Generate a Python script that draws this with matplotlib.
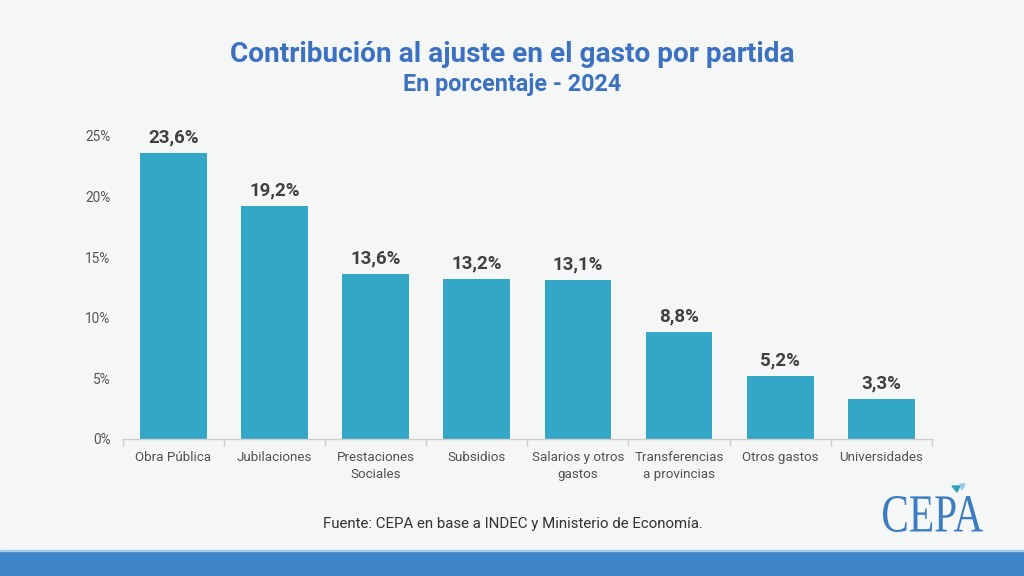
import matplotlib
matplotlib.use("Agg")
import matplotlib.pyplot as plt
from matplotlib.patches import Polygon, Rectangle, PathPatch
from matplotlib.textpath import TextPath
from matplotlib.font_manager import FontProperties
from matplotlib.transforms import Affine2D
import numpy as np

categorias = ["Obra Pública", "Jubilaciones", "Prestaciones\nSociales", "Subsidios",
              "Salarios y otros\ngastos", "Transferencias\na provincias", "Otros gastos",
              "Universidades"]
valores = [23.6, 19.2, 13.6, 13.2, 13.1, 8.8, 5.2, 3.3]
yticks = [0, 5, 10, 15, 20, 25]

titulo = "Contribución al ajuste en el gasto por partida"
subtitulo = "En porcentaje - 2024"
fuente = "Fuente: CEPA en base a INDEC y Ministerio de Economía."

BG = "#f5f7f6"
BAR = "#35a7c6"
TITLE_C = "#3b71c0"
GRID_C = "#cfcfcf"

plt.rcParams["font.family"] = ["Roboto", "DejaVu Sans"]

fig = plt.figure(figsize=(10.24, 5.76), dpi=100, facecolor=BG)
ax = fig.add_axes([0.120, 0.238, 0.790, 0.526], facecolor=BG)

x = np.arange(len(categorias))
ax.bar(x, valores, width=0.66, color=BAR, zorder=2)
for xi, v in zip(x, valores):
    ax.text(xi, v + 0.55, f"{v:.1f}%".replace(".", ","), ha="center", va="bottom",
            fontsize=13.5, fontweight="bold", color="#404040", clip_on=False)

ax.set_xlim(-0.5, len(categorias) - 0.5)
ax.set_ylim(0, 25)
ax.set_yticks(yticks)
ax.set_yticklabels([f"{t}%" for t in yticks], fontsize=9.8, color="#555555")
ax.set_xticks(x)
ax.set_xticklabels(categorias, fontsize=9.6, color="#505050", linespacing=1.4)
ax.set_xticks(np.arange(len(categorias) + 1) - 0.5, minor=True)
ax.tick_params(axis="x", which="major", length=0, pad=9)
ax.tick_params(axis="x", which="minor", length=5, color=GRID_C, width=1)
ax.tick_params(axis="y", length=0, pad=9)
for s in ["top", "right", "left"]:
    ax.spines[s].set_visible(False)
ax.spines["bottom"].set_color(GRID_C)
ax.spines["bottom"].set_linewidth(1)

fig.text(0.5, 0.905, titulo, ha="center", va="center", fontsize=20.2,
         fontweight="bold", color=TITLE_C)
fig.text(0.5, 0.853, subtitulo, ha="center", va="center", fontsize=16.8,
         fontweight="bold", color=TITLE_C)
fig.text(0.501, 0.090, fuente, ha="center", va="center", fontsize=10.8,
         color="#333333")

# logo CEPA (texto serif comprimido para encajar en la caja del original)
tp = TextPath((0, 0), "CEPA", size=10, prop=FontProperties(family="Liberation Serif"))
bb = tp.get_extents()
W, H = 1024.0, 576.0
x0, y0, w, h = 883 / W, 44 / H, 100 / W, 36 / H
tr = (Affine2D().translate(-bb.x0, -bb.y0)
      .scale(w / bb.width, h / bb.height).translate(x0, y0) + fig.transFigure)
fig.patches.append(PathPatch(tp, transform=tr, facecolor="#3c7cc0",
                             edgecolor="none", zorder=3))
fig.patches.append(Polygon([[952 / W, 1 - 486 / H], [960 / W, 1 - 486 / H],
                            [957 / W, 1 - 492 / H]], closed=True,
                           transform=fig.transFigure, color="#2ba3b8", zorder=3))
fig.patches.append(Polygon([[960 / W, 1 - 484 / H], [965 / W, 1 - 484 / H],
                            [962 / W, 1 - 490 / H]], closed=True,
                           transform=fig.transFigure, color="#9bc7e6", zorder=3))

# franja inferior
fig.patches.append(Rectangle((0, 0), 1, 0.043, transform=fig.transFigure,
                             color="#3d84c6", zorder=1))
fig.patches.append(Rectangle((0, 0.043), 1, 0.003, transform=fig.transFigure,
                             color="#a9c9e8", zorder=1))

fig.savefig("out.png", dpi=100, facecolor=BG)
